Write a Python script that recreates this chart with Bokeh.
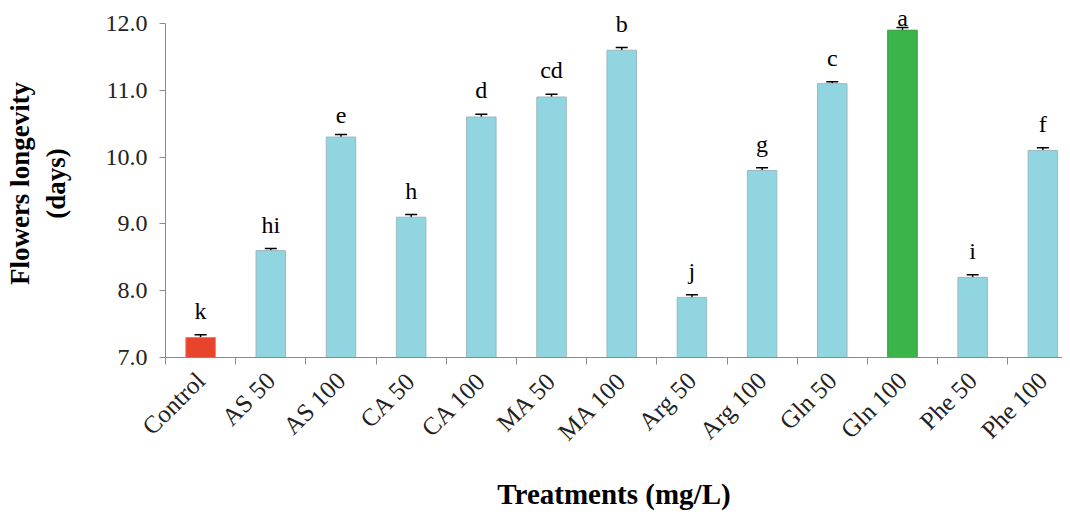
import math
from bokeh.plotting import figure
from bokeh.models import Range1d, FixedTicker, ColumnDataSource, Whisker, LinearAxis
from bokeh.core.properties import value
from bokeh.embed import file_html
from bokeh.resources import INLINE

categories = ["Control", "AS 50", "AS 100", "CA 50", "CA 100", "MA 50", "MA 100",
              "Arg 50", "Arg 100", "Gln 50", "Gln 100", "Phe 50", "Phe 100"]
longevity = [7.3, 8.6, 10.3, 9.1, 10.6, 10.9, 11.6, 7.9, 9.8, 11.1, 11.9, 8.2, 10.1]
errors = [0.04, 0.03, 0.04, 0.04, 0.04, 0.04, 0.04, 0.04, 0.04, 0.03, 0.04, 0.04, 0.04]
letters = ["k", "hi", "e", "h", "d", "cd", "b", "j", "g", "c", "a", "i", "f"]
yticks = [7.0, 8.0, 9.0, 10.0, 11.0, 12.0]

FONT = "Liberation Serif"

xs = [i + 0.5 for i in range(len(categories))]
colors = []
lines = []
for c in categories:
    if c == "Control":
        colors.append("#e8432b"); lines.append("#f07a60")
    elif c == "Gln 100":
        colors.append("#3bb44a"); lines.append("#2f9a3c")
    else:
        colors.append("#91d5e1"); lines.append("#9bb8bf")

upper = [v + e for v, e in zip(longevity, errors)]
lower = [v - e for v, e in zip(longevity, errors)]
# letters sit above the error bar, but are kept inside the chart at the top
letter_y = [min(u, 11.72) for u in upper]

src = ColumnDataSource(dict(
    x=xs, top=longevity, color=colors, line=lines,
    upper=upper, lower=lower, letter=letters, ly=letter_y,
))

p = figure(width=1062, height=516, output_backend="svg", toolbar_location=None,
           x_range=Range1d(0, 12.78), y_range=Range1d(7.0, 12.21),
           min_border_left=165, min_border_top=9, min_border_bottom=159, min_border_right=0,
           x_axis_type=None, y_axis_type=None)
p.outline_line_color = None
p.grid.visible = False
p.background_fill_color = "white"

p.vbar(x="x", top="top", bottom=7.0, width=0.42, fill_color="color", line_color="line",
       line_width=1, source=src)

w = Whisker(base="x", upper="upper", lower="lower", source=src, line_color="black",
            line_width=1.5, dimension="height")
w.upper_head.size = 12
w.lower_head.size = 12
w.upper_head.line_width = 1.5
w.lower_head.line_width = 1.5
p.add_layout(w)

p.text(x="x", y="ly", text="letter", source=src, text_align="center",
       text_baseline="bottom", y_offset=-11, text_font=value(FONT), text_font_size="24px",
       text_color="black")

yaxis = LinearAxis(ticker=FixedTicker(ticks=yticks), bounds=(7.0, 12.0),
                   axis_line_color="#8a8a8a",
                   major_tick_line_color="#8a8a8a", major_tick_out=6, major_tick_in=0,
                   minor_tick_line_color=None, major_label_standoff=12,
                   major_label_text_font=FONT, major_label_text_font_size="24px",
                   major_label_text_color="#222222",
                   major_label_overrides={t: f"{t:.1f}" for t in yticks},
                   axis_label="Flowers longevity\n(days)", axis_label_text_font=FONT,
                   axis_label_text_font_size="27px", axis_label_text_font_style="bold",
                   axis_label_text_color="black", axis_label_standoff=32)
p.add_layout(yaxis, "left")

xaxis = LinearAxis(ticker=FixedTicker(ticks=xs, minor_ticks=list(range(len(categories) + 1))),
                   axis_line_color="#8a8a8a", major_tick_line_color=None,
                   minor_tick_line_color="#8a8a8a", minor_tick_out=7, minor_tick_in=0,
                   major_label_orientation=math.pi / 4,
                   major_label_overrides={x: c for x, c in zip(xs, categories)},
                   major_label_text_font=FONT, major_label_text_font_size="25px",
                   major_label_text_color="#222222", major_label_standoff=12,
                   axis_label="Treatments (mg/L)", axis_label_text_font=FONT,
                   axis_label_text_font_size="29px", axis_label_text_font_style="bold",
                   axis_label_text_color="black", axis_label_standoff=20)
p.add_layout(xaxis, "below")

open("out.html", "w").write(file_html(p, INLINE))
